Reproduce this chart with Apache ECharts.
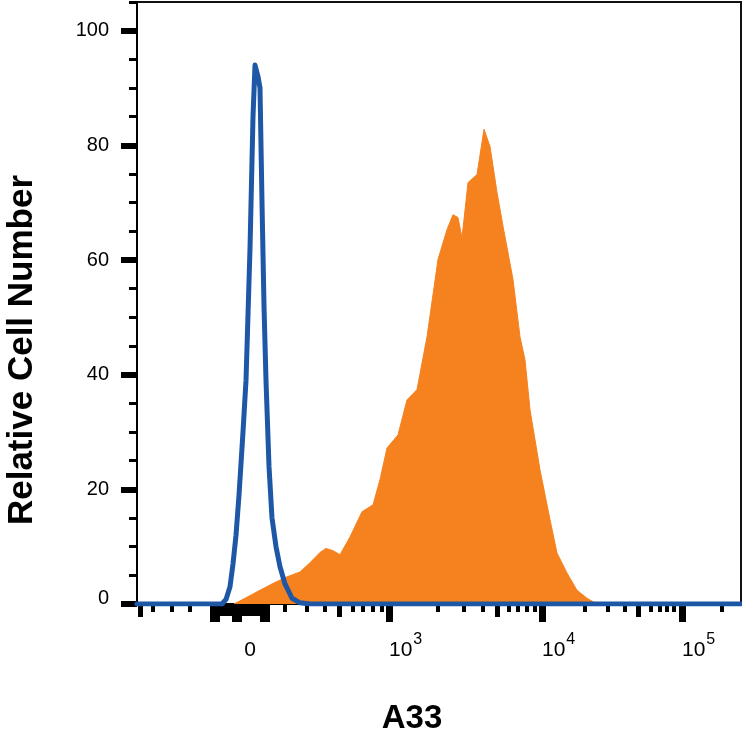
<!DOCTYPE html>
<html>
<head>
<meta charset="utf-8">
<script src="https://cdn.jsdelivr.net/npm/echarts@6/dist/echarts.min.js"></script>
<style>
html,body{margin:0;padding:0;background:#fff;}
#chart{width:742px;height:746px;}
</style>
</head>
<body>
<div id="chart"></div>
<script>
// x values are positions on the biexponential display scale (0..604)
const xScaleMin = 0;
const xScaleMax = 604;
const yScaleMax = 105;

// Orange filled histogram (A33 stained)
const orangeX = [97,108,123,135,148,163,173,183,189,196,203,213,225,236,243,250,261,270,280,290,301,310,316,321,325,331,340,347,353,360,366,376,383,388,393,403,413,420,430,440,450,460];
const orangeY = [0,1.0,2.4,3.5,4.6,5.6,7.2,9.0,9.7,9.3,8.6,11.7,16.1,17.3,21.7,27.2,29.5,35.6,37.4,46.6,60.1,65.3,67.9,67.4,63.9,73.5,74.9,82.8,79.8,71.8,65.9,56.6,46.6,42.6,33.9,23.4,14.7,8.9,5.4,2.4,1.0,0];

// Blue open histogram (isotype control)
const blueX = [0,85,89,93,96,99,102,106,109,113,116,118,121,123,125,127,129,132,135,139,143,148,155,163,173,604];
const blueY = [0,0,0.8,3,7,12,19,30,39,62,85,94,92,90,70,52,39,24,15,10,6.5,3.5,1,0.2,0,0];

// Axis ticks and labels
const yLabelValues = [0,20,40,60,80,100];
const yMinorTicks = [5,10,15,25,30,35,45,50,55,65,70,75,85,90,95,105];
const xLongTicks = [252,405,545];
const xClusterLong = [78,100,128];
const xClusterMid = [89,110,118];
const xMidTicks = [3,202,360,501];
const xShortTicks = [16,35,53,148,170,188,216,226,236,245,301,327,346,372,381,390,398,448,471,488,514,523,530,537,585];
const xZeroLabelPos = [113];
const xPowerLabelPos = [252,405,545];
const xPowerLabelExp = ['3','4','5'];

const xAxisTitle = 'A33';
const yAxisTitle = 'Relative Cell Number';

const FONT = '"Liberation Sans", Arial, Helvetica, sans-serif';

function tickAxis(values, len, width, extra) {
  return Object.assign({
    type: 'value', gridIndex: 0, position: 'bottom',
    min: xScaleMin, max: xScaleMax,
    axisLine: {show: false},
    splitLine: {show: false},
    axisLabel: {show: false},
    axisTick: {show: true, customValues: values, length: len, inside: false,
      lineStyle: {color: '#000', width: width}}
  }, extra || {});
}

const xAxes = [
  tickAxis(xLongTicks, 18, 7, {
    axisLine: {show: true, onZero: false, lineStyle: {color: '#000', width: 2}}
  }),
  tickAxis(xClusterLong, 18, 10),
  tickAxis(xClusterMid, 12, 12),
  tickAxis(xMidTicks, 13, 5),
  tickAxis(xShortTicks, 8, 4),
  {
    type: 'value', gridIndex: 0, position: 'bottom',
    min: xScaleMin, max: xScaleMax,
    axisLine: {show: false}, splitLine: {show: false}, axisTick: {show: false},
    axisLabel: {show: true, customValues: xZeroLabelPos, margin: 36,
      fontFamily: FONT, fontSize: 21, color: '#000',
      formatter: function () { return '0'; }}
  },
  {
    type: 'value', gridIndex: 0, position: 'bottom',
    min: xScaleMin, max: xScaleMax,
    axisLine: {show: false}, splitLine: {show: false}, axisTick: {show: false},
    axisLabel: {show: true, customValues: xPowerLabelPos, margin: 28, align: 'left',
      fontFamily: FONT, color: '#000',
      formatter: function (v) {
        const i = xPowerLabelPos.indexOf(v);
        return '{b|10}{s|' + (i >= 0 ? xPowerLabelExp[i] : '') + '}';
      },
      rich: {
        b: {fontFamily: FONT, fontSize: 21, color: '#000', verticalAlign: 'bottom'},
        s: {fontFamily: FONT, fontSize: 16, color: '#000', verticalAlign: 'bottom', padding: [0, 0, 13, 1]}
      }}
  }
];

const yAxes = [
  {
    type: 'value', gridIndex: 0, position: 'left',
    min: 0, max: yScaleMax,
    axisLine: {show: true, lineStyle: {color: '#000', width: 2}},
    splitLine: {show: false},
    axisTick: {show: true, customValues: yLabelValues, length: 16, lineStyle: {color: '#000', width: 6}},
    axisLabel: {show: true, customValues: yLabelValues, margin: 28,
      fontFamily: FONT, fontSize: 20, color: '#000',
      formatter: function (v) { return v === 0 ? '{z|0}' : String(v); },
      rich: {z: {fontFamily: FONT, fontSize: 20, color: '#000', padding: [0, 0, 12, 0]}}}
  },
  {
    type: 'value', gridIndex: 0, position: 'left',
    min: 0, max: yScaleMax,
    axisLine: {show: false}, splitLine: {show: false}, axisLabel: {show: false},
    axisTick: {show: true, customValues: yMinorTicks, length: 8, lineStyle: {color: '#000', width: 3}}
  }
];

const chart = echarts.init(document.getElementById('chart'), null, {renderer: 'canvas'});
chart.setOption({
  animation: false,
  backgroundColor: '#fff',
  grid: {left: 137, right: 1, top: 2, bottom: 142, show: true,
    borderColor: '#111', borderWidth: 2, backgroundColor: 'transparent'},
  xAxis: xAxes,
  yAxis: yAxes,
  graphic: [
    {type: 'text', x: 22, y: 350, rotation: Math.PI / 2,
      style: {text: yAxisTitle, fontFamily: FONT, fontWeight: 'bold', fontSize: 35,
        fill: '#000', textAlign: 'center', textVerticalAlign: 'middle'}},
    {type: 'text', x: 412, y: 719,
      style: {text: xAxisTitle, fontFamily: FONT, fontWeight: 'bold', fontSize: 33,
        fill: '#000', textAlign: 'center', textVerticalAlign: 'middle'}}
  ],
  series: [
    {
      type: 'line', xAxisIndex: 0, yAxisIndex: 0,
      data: orangeX.map((x, i) => [x, orangeY[i]]),
      showSymbol: false, symbol: 'none', smooth: false,
      lineStyle: {color: '#f5821f', width: 1},
      areaStyle: {color: '#f5821f', opacity: 1},
      z: 2
    },
    {
      type: 'line', xAxisIndex: 0, yAxisIndex: 0,
      data: blueX.map((x, i) => [x, blueY[i]]),
      showSymbol: false, symbol: 'none', smooth: false,
      lineStyle: {color: '#1d57a6', width: 5, join: 'round', cap: 'round'},
      z: 3
    }
  ]
});
</script>
</body>
</html>
